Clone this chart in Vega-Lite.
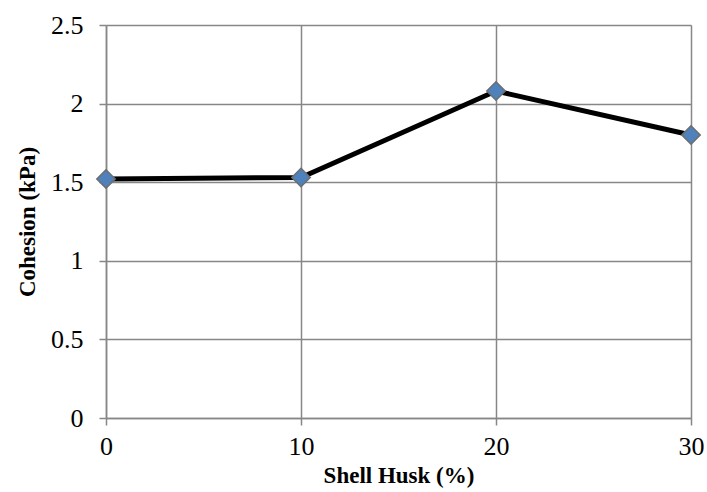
{
  "$schema": "https://vega.github.io/schema/vega-lite/v6.json",
  "width": 585,
  "height": 393,
  "autosize": {"type": "none"},
  "padding": {"left": 106, "top": 25, "right": 16, "bottom": 74},
  "background": "white",
  "data": {"values": [
    {"husk": 0, "cohesion": 1.52},
    {"husk": 10, "cohesion": 1.53},
    {"husk": 20, "cohesion": 2.08},
    {"husk": 30, "cohesion": 1.80}
  ]},
  "config": {
    "view": {"stroke": null},
    "font": "Liberation Serif",
    "axis": {
      "gridColor": "#878787",
      "gridWidth": 1.5,
      "gridOpacity": 1,
      "domainColor": "#878787",
      "domainWidth": 1.5,
      "tickColor": "#878787",
      "tickWidth": 1.5,
      "tickSize": 7,
      "labelFont": "Liberation Serif",
      "labelFontSize": 26,
      "labelColor": "black",
      "titleFont": "Liberation Serif",
      "titleFontSize": 23,
      "titleFontWeight": "bold",
      "titleColor": "black"
    }
  },
  "layer": [
    {
      "mark": {"type": "line", "color": "black", "strokeWidth": 5},
      "encoding": {
        "x": {"field": "husk", "type": "quantitative", "scale": {"domain": [0, 30], "nice": false},
              "axis": {"values": [0, 10, 20, 30], "title": "Shell Husk (%)", "labelPadding": 8, "titlePadding": 5, "labelFlush": false}},
        "y": {"field": "cohesion", "type": "quantitative", "scale": {"domain": [0, 2.5], "nice": false},
              "axis": {"values": [0, 0.5, 1, 1.5, 2, 2.5], "format": "~g", "title": "Cohesion (kPa)", "labelPadding": 16, "titlePadding": 11, "labelFlush": false}}
      }
    },
    {
      "mark": {"type": "point", "shape": "diamond", "filled": true, "fill": "#4F81BD", "stroke": "#6e6e6e", "strokeWidth": 1.5, "size": 340, "opacity": 1},
      "encoding": {
        "x": {"field": "husk", "type": "quantitative"},
        "y": {"field": "cohesion", "type": "quantitative"}
      }
    }
  ]
}
